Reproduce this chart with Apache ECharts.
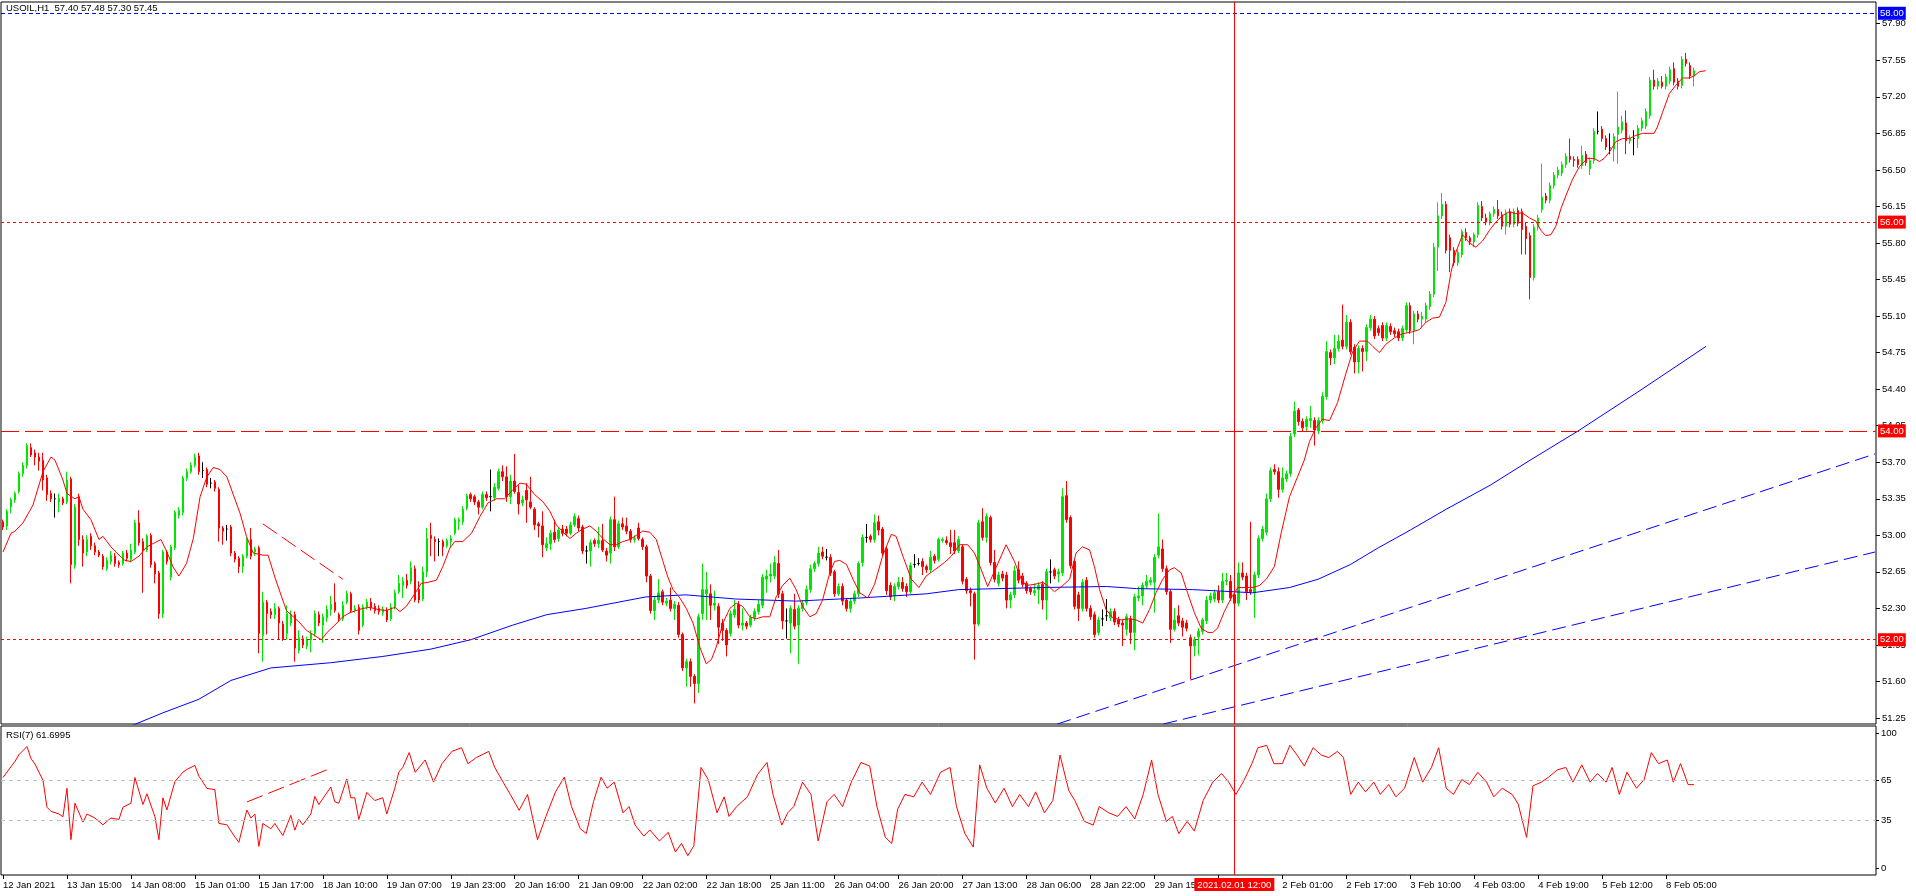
<!DOCTYPE html>
<html><head><meta charset="utf-8">
<script src="https://cdn.jsdelivr.net/npm/echarts@6/dist/echarts.min.js"></script>
<style>html,body{margin:0;padding:0;background:#fff;}#c{width:1916px;height:896px;}</style>
</head><body><div id="c"></div>
<script>
// ---------- DATA ----------
// candles: [open, close, low, high]
const candlesA = [
[53.13,53.08,53.05,53.15],[53.09,53.23,53.05,53.25],[53.27,53.34,53.21,53.36],[53.34,53.40,53.31,53.42],
[53.42,53.59,53.40,53.61],[53.59,53.67,53.56,53.70],[53.67,53.86,53.64,53.88],[53.84,53.77,53.75,53.88],
[53.79,53.75,53.67,53.82],[53.75,53.71,53.62,53.79],[53.72,53.53,53.43,53.79],[53.55,53.39,53.33,53.58],
[53.40,53.35,53.32,53.43],[53.35,53.35,53.17,53.40],[53.32,53.35,53.22,53.40],[53.35,53.31,53.29,53.37],
[53.32,53.53,53.30,53.61],[53.54,52.72,52.54,53.56],[52.71,53.27,52.68,53.30],[53.37,52.96,52.90,53.40],
[52.96,52.83,52.70,53.00],[52.84,52.96,52.80,53.00],[52.99,52.90,52.86,53.02],[52.90,52.84,52.81,52.93],
[52.84,52.81,52.79,52.86],[52.80,52.70,52.67,52.82],[52.68,52.76,52.66,52.79],[52.75,52.81,52.72,52.85],
[52.80,52.73,52.70,52.83],[52.74,52.72,52.69,52.76],[52.73,52.83,52.71,52.85],[52.83,52.78,52.75,52.86],
[52.77,52.86,52.74,52.92],[52.84,53.12,52.82,53.15],[53.12,52.93,52.90,53.24],[52.94,52.86,52.45,52.97],
[52.86,52.99,52.84,53.01],[53.00,52.72,52.69,53.02],[52.73,52.63,52.54,52.75],[52.64,52.25,52.20,52.66],
[52.25,52.84,52.21,52.86],[52.84,52.75,52.72,52.86],[52.60,52.89,52.57,52.91],[52.88,53.22,52.86,53.24],
[53.19,53.24,53.16,53.27],[53.22,53.55,53.19,53.57],[53.55,53.61,53.52,53.64],[53.61,53.67,53.59,53.70],
[53.67,53.75,53.65,53.78],[53.76,53.61,53.58,53.79],[53.62,53.62,53.55,53.70],[53.63,53.49,53.46,53.65],
[53.50,53.50,53.45,53.55],[53.51,53.45,53.42,53.53],[53.44,53.07,52.94,53.46],[53.07,53.04,52.91,53.09],
[53.06,53.06,52.95,53.10],[53.08,52.83,52.80,53.10],[52.83,52.77,52.74,52.85],[52.78,52.70,52.64,52.80],
[52.70,52.80,52.64,52.82],[52.80,52.96,52.78,52.98],[52.96,52.80,52.77,53.07],[52.84,52.87,52.80,52.89],
[52.88,52.06,51.87,52.90],[52.04,52.36,51.79,52.46],[52.36,52.25,52.05,52.38],[52.27,52.24,52.20,52.30],
[52.24,52.30,52.20,52.35],[52.30,52.16,52.00,52.32],[52.15,52.01,51.99,52.18],[52.06,52.25,52.00,52.33],
[52.16,52.24,52.13,52.28],[52.24,51.92,51.79,52.27],[51.90,52.02,51.87,52.09],[52.01,51.95,51.92,52.04],
[51.94,52.00,51.91,52.03],[52.00,52.06,51.88,52.09],[52.06,52.25,52.03,52.28],[52.24,52.16,52.13,52.27],
[52.14,52.22,51.97,52.25],[52.21,52.29,52.17,52.33],[52.29,52.34,52.23,52.42],[52.36,52.28,52.26,52.54],
[52.24,52.20,52.17,52.26],[52.20,52.33,52.18,52.37],[52.36,52.44,52.34,52.47],[52.44,52.28,52.26,52.46],
[52.28,52.30,52.26,52.33],[52.31,52.09,52.05,52.34],[52.14,52.31,52.12,52.34],[52.31,52.36,52.29,52.39],
[52.36,52.31,52.28,52.40],[52.32,52.28,52.25,52.35],[52.30,52.27,52.24,52.33],[52.26,52.29,52.23,52.32],
[52.28,52.19,52.17,52.31],[52.20,52.31,52.18,52.35],[52.31,52.45,52.29,52.48],[52.46,52.54,52.44,52.62],
[52.52,52.56,52.40,52.60],[52.57,52.52,52.49,52.63],[52.56,52.69,52.53,52.75],[52.68,52.38,52.36,52.71],
[52.48,52.38,52.35,52.56],[52.39,52.65,52.37,52.70],[52.65,52.97,52.60,53.07]
];
const candlesB = [
[53.00,52.97,52.80,53.12],[52.96,52.94,52.75,52.99],[52.94,52.94,52.80,52.97],[52.94,52.89,52.80,52.96],
[52.90,52.95,52.88,52.97],[52.94,52.97,52.88,53.00],[53.02,53.15,53.00,53.17],[53.13,53.15,53.05,53.17],
[53.13,53.25,53.10,53.28],[53.26,53.38,53.24,53.40],[53.39,53.35,53.32,53.41],[53.37,53.32,53.29,53.39],
[53.32,53.27,53.20,53.34],[53.27,53.39,53.25,53.42],[53.39,53.36,53.33,53.42],[53.37,53.37,53.23,53.63],
[53.36,53.46,53.33,53.50],[53.45,53.61,53.43,53.64],[53.61,53.56,53.52,53.67],[53.56,53.37,53.32,53.66],
[53.37,53.52,53.30,53.58],[53.52,53.42,53.40,53.78],[53.41,53.30,53.20,53.48],[53.31,53.34,53.28,53.38],
[53.43,53.34,53.12,53.50],[53.32,53.27,53.25,53.56],[53.25,53.10,53.05,53.27],[53.11,53.09,52.98,53.13],
[53.09,52.91,52.79,53.23],[52.88,52.92,52.85,52.98],[52.92,53.02,52.86,53.05],[53.03,52.96,52.93,53.15],
[52.97,53.05,52.94,53.08],[53.06,53.02,52.99,53.10],[53.06,53.02,52.99,53.09],[53.02,53.10,53.00,53.13],
[53.10,53.18,53.08,53.21],[53.16,53.07,53.04,53.19],[53.08,52.85,52.82,53.10],[52.85,52.85,52.73,52.90],
[52.85,52.93,52.70,52.96],[52.95,52.92,52.89,52.97],[52.92,52.95,52.88,53.08],[52.95,52.86,52.84,53.11],
[52.85,52.81,52.75,52.88],[52.83,53.15,52.73,53.18],[53.15,52.89,52.85,53.37],[52.89,53.11,52.87,53.14],
[53.11,53.08,53.05,53.17],[53.09,53.04,53.01,53.17],[53.04,52.96,52.93,53.06],[52.96,52.97,52.93,53.00],
[53.07,52.97,52.95,53.12],[52.96,52.89,52.86,52.98],[52.89,52.61,52.55,52.91],[52.61,52.28,52.25,52.63],
[52.28,52.38,52.19,52.41],[52.38,52.45,52.35,52.58],[52.46,52.36,52.33,52.48],[52.35,52.37,52.32,52.40],
[52.38,52.30,52.27,52.50],[52.30,52.34,52.19,52.37],[52.33,52.05,52.02,52.36],[52.05,51.73,51.70,52.07],
[51.73,51.79,51.55,51.82],[51.79,51.65,51.55,51.82],[51.65,51.58,51.39,51.67],[51.58,52.22,51.49,52.25],
[52.25,52.48,52.19,52.73],[52.44,52.48,52.19,52.65],[52.44,52.33,52.19,52.53],[52.33,52.35,52.28,52.47],
[52.32,52.12,51.96,52.35],[52.16,52.09,51.99,52.20],[52.09,51.95,51.84,52.11],[52.06,52.25,52.03,52.28],
[52.24,52.29,52.21,52.38],[52.34,52.14,52.11,52.37],[52.14,52.16,52.09,52.30],[52.16,52.13,52.10,52.18],
[52.14,52.21,52.12,52.24],[52.21,52.27,52.18,52.30],[52.27,52.34,52.24,52.38],[52.33,52.60,52.30,52.63],
[52.58,52.61,52.45,52.67],[52.61,52.63,52.55,52.73],[52.61,52.74,52.58,52.80],[52.73,52.44,52.40,52.86],
[52.44,52.18,52.10,52.47],[52.18,52.18,52.01,52.30],[52.16,52.30,51.87,52.33],[52.29,52.13,52.10,52.44],
[52.14,52.30,51.77,52.33],[52.30,52.35,52.27,52.38],[52.36,52.48,52.33,52.52],[52.48,52.68,52.45,52.72],
[52.68,52.73,52.65,52.75],[52.73,52.83,52.70,52.89],[52.84,52.80,52.77,52.89],[52.79,52.79,52.76,52.87],
[52.79,52.64,52.61,52.82],[52.65,52.44,52.41,52.67],[52.44,52.51,52.42,52.54],[52.51,52.37,52.33,52.54],
[52.38,52.30,52.27,52.40],[52.30,52.37,52.26,52.40],[52.37,52.44,52.34,52.47],[52.44,52.73,52.41,52.75]
];
const candlesC = [
[52.74,52.98,52.70,53.01],[52.98,52.98,52.93,53.11],[52.99,52.96,52.93,53.01],[52.96,53.12,52.93,53.20],
[53.13,53.05,53.00,53.19],[53.06,52.83,52.80,53.08],[52.87,52.47,52.43,52.89],[52.52,52.41,52.38,52.55],
[52.42,52.51,52.37,52.54],[52.51,52.55,52.48,52.60],[52.55,52.49,52.46,52.60],[52.51,52.46,52.41,52.54],
[52.46,52.71,52.44,52.74],[52.72,52.72,52.69,52.82],[52.73,52.73,52.71,52.78],[52.75,52.70,52.62,52.78],
[52.70,52.67,52.64,52.72],[52.67,52.79,52.64,52.85],[52.80,52.76,52.73,52.82],[52.77,52.96,52.75,52.98],
[52.95,52.96,52.93,52.98],[52.95,52.93,52.91,52.99],[52.93,52.89,52.82,53.05],[52.93,52.85,52.82,53.05],
[52.85,52.96,52.83,52.99],[52.89,52.56,52.53,52.91],[52.58,52.47,52.44,52.60],[52.47,52.45,52.32,52.50],
[52.44,52.15,51.81,52.46],[52.15,53.12,52.13,53.15],[53.13,52.98,52.95,53.26],[52.98,53.18,52.93,53.21],
[53.17,52.74,52.71,53.19],[52.74,52.58,52.55,52.86],[52.54,52.62,52.51,52.65],[52.63,52.59,52.56,52.66],
[52.62,52.38,52.30,52.65],[52.38,52.43,52.30,52.46],[52.43,52.66,52.40,52.71],[52.67,52.57,52.54,52.75],
[52.61,52.53,52.50,52.64],[52.54,52.47,52.44,52.56],[52.49,52.46,52.43,52.51],[52.45,52.47,52.42,52.54],
[52.48,52.52,52.34,52.55],[52.53,52.38,52.29,52.56],[52.38,52.65,52.19,52.68],[52.65,52.65,52.54,52.77],
[52.67,52.61,52.58,52.69],[52.63,52.65,52.55,52.68],[52.64,53.37,52.61,53.45],[53.38,53.15,53.12,53.52],
[53.17,52.71,52.68,53.19],[52.75,52.32,52.29,52.77],[52.43,52.30,52.18,52.46],[52.30,52.55,52.27,52.58],
[52.57,52.30,52.27,52.60],[52.30,52.22,52.19,52.33],[52.24,52.05,52.02,52.27],[52.07,52.19,52.04,52.22],
[52.20,52.20,52.13,52.29],[52.23,52.23,52.18,52.39],[52.21,52.27,52.18,52.30],[52.27,52.17,52.14,52.30],
[52.19,52.15,52.12,52.22],[52.16,52.14,51.94,52.19],[52.10,52.22,52.04,52.25],[52.20,52.07,51.96,52.23],
[52.07,52.41,51.90,52.44],[52.40,52.42,52.37,52.51],[52.42,52.52,52.33,52.55],[52.52,52.56,52.49,52.62],
[52.55,52.57,52.52,52.60],[52.55,52.79,52.26,52.82],[52.81,52.89,52.78,53.21],[52.87,52.68,52.65,52.96],
[52.68,52.46,52.43,52.71],[52.46,52.10,51.97,52.48],[52.10,52.19,52.08,52.30],[52.23,52.16,52.13,52.33],
[52.18,52.12,52.03,52.21],[52.16,52.11,52.08,52.19],[52.02,51.94,51.62,52.05],[51.94,52.00,51.84,52.03],
[52.03,52.08,51.85,52.11],[52.08,52.19,52.05,52.21],[52.18,52.38,52.15,52.42],[52.38,52.42,52.35,52.45],
[52.39,52.45,52.36,52.48],[52.46,52.38,52.35,52.52],[52.38,52.56,52.35,52.64],[52.56,52.57,52.52,52.64],
[52.56,52.40,52.37,52.62],[52.43,52.35,52.32,52.77],[52.35,52.64,52.32,52.74],[52.64,52.60,52.57,52.74],
[52.61,52.46,52.38,52.64],[52.48,52.46,52.43,53.13],[52.45,52.62,52.21,52.65],[52.62,52.97,52.59,53.00],
[52.97,53.06,52.94,53.09],[53.03,53.35,53.00,53.40],[53.35,53.62,53.32,53.65],[53.63,53.61,53.58,53.68],
[53.61,53.44,53.36,53.65],[53.44,53.55,53.41,53.65],[53.54,53.59,53.51,53.62]
];
const candlesD = [
[53.59,53.95,53.56,53.98],[53.97,54.19,53.94,54.28],[54.20,54.09,54.05,54.22],[54.09,54.03,54.00,54.12],
[54.04,54.11,54.00,54.14],[54.10,54.12,54.03,54.24],[54.10,54.01,53.86,54.13],[54.00,54.10,53.97,54.13],
[54.10,54.33,54.07,54.37],[54.33,54.76,54.30,54.86],[54.75,54.70,54.63,54.78],[54.70,54.79,54.64,54.92],
[54.79,54.86,54.76,54.92],[54.87,54.81,54.78,55.21],[54.81,55.04,54.78,55.11],[55.04,54.76,54.73,55.07],
[54.80,54.66,54.55,54.83],[54.66,54.79,54.55,54.82],[54.79,54.76,54.57,54.82],[54.76,54.99,54.67,55.02],
[54.99,55.07,54.96,55.11],[55.07,54.91,54.88,55.10],[54.98,54.94,54.91,55.01],[55.01,54.89,54.86,55.04],
[54.89,55.01,54.86,55.04],[55.00,54.95,54.92,55.03],[54.96,54.93,54.90,54.99],[54.95,54.89,54.86,54.98],
[54.89,54.98,54.86,55.01],[54.97,55.20,54.94,55.23],[55.20,54.96,54.93,55.23],[54.96,55.12,54.83,55.15],
[55.12,55.07,55.04,55.15],[55.07,55.10,54.99,55.14],[55.07,55.20,55.04,55.23],[55.19,55.31,55.16,55.34],
[55.31,55.76,55.28,55.80],[55.76,56.06,55.53,56.19],[56.06,56.17,56.03,56.28],[56.17,55.73,55.70,56.20],
[55.85,55.73,55.52,55.88],[55.73,55.61,55.58,55.76],[55.61,55.71,55.58,55.74],[55.69,55.91,55.66,55.93],
[55.90,55.85,55.82,55.94],[55.85,55.81,55.78,55.87],[55.81,55.88,55.76,55.90],[55.88,56.16,55.85,56.19],
[56.15,56.04,56.01,56.20],[56.04,56.00,55.97,56.08],[56.00,56.08,55.97,56.10],[56.08,56.12,56.05,56.15],
[56.12,56.06,56.03,56.21],[56.07,55.96,55.93,56.10],[55.96,56.09,55.88,56.12],[56.10,55.98,55.95,56.13],
[55.98,56.10,55.95,56.13],[56.11,55.99,55.96,56.14],[56.10,55.93,55.69,56.13],[55.96,55.84,55.69,56.00],
[55.87,55.47,55.26,55.90],[55.47,55.95,55.44,55.98],[55.95,56.04,55.92,56.07],[56.12,56.24,56.09,56.56],
[56.25,56.21,56.18,56.28],[56.21,56.35,56.18,56.38],[56.35,56.45,56.32,56.48],[56.45,56.50,56.42,56.53],
[56.47,56.55,56.44,56.58],[56.55,56.63,56.52,56.66],[56.63,56.60,56.57,56.80],[56.60,56.59,56.53,56.63],
[56.60,56.55,56.52,56.63],[56.54,56.64,56.51,56.73],[56.65,56.57,56.54,56.68],[56.51,56.59,56.45,56.62],
[56.59,56.87,56.56,56.90],[56.87,56.87,56.84,57.06],[56.89,56.80,56.77,56.92],[56.80,56.72,56.69,56.83],
[56.71,56.71,56.65,56.85],[56.70,56.82,56.58,56.85],[56.84,56.91,56.56,57.25],[56.88,56.96,56.85,57.02],
[56.95,56.78,56.65,57.07],[56.78,56.80,56.75,56.83],[56.80,56.80,56.64,56.88],[56.80,56.90,56.71,56.93],
[56.90,56.97,56.87,57.00],[56.92,57.06,56.89,57.09],[57.02,57.36,56.99,57.39],[57.36,57.30,57.27,57.46],
[57.30,57.35,57.27,57.38],[57.34,57.30,57.28,57.40],[57.30,57.39,57.27,57.42],[57.35,57.46,57.32,57.49],
[57.47,57.34,57.31,57.53],[57.35,57.30,57.27,57.38],[57.31,57.56,57.28,57.59],[57.56,57.52,57.49,57.62],
[57.50,57.40,57.37,57.53],[57.40,57.45,57.30,57.48]
];
// fast moving average (red), points [bar, price]
const maFast = [[0,52.84],[2,53.02],[3,53.04],[5,53.12],[7.5,53.29],[10,53.61],[12,53.75],[13,53.72],[15,53.53],[16,53.40],[18,53.35],[19,53.37],[20,53.25],[22,53.15],[24,52.96],[25,52.99],[27,52.89],[28.5,52.83],[30.5,52.76],[32,52.75],[34,52.80],[36,52.89],[38,52.93],[39.5,52.96],[41,52.84],[42.5,52.70],[44,52.61],[45.9,52.73],[47.6,52.97],[49.3,53.37],[51,53.56],[52.6,53.65],[54.3,53.63],[56,53.56],[57.6,53.39],[59.3,53.21],[60.9,52.99],[62.6,52.83],[65,52.81],[66.3,52.81],[68,52.60],[69.7,52.41],[70.9,52.28],[72.6,52.22],[74.3,52.16],[75.9,52.09],[78,52.04],[79.6,52.00],[81.3,52.08],[83,52.14],[85,52.22],[86.8,52.26],[88.4,52.28],[90,52.30],[91.8,52.31],[93.8,52.29],[95.9,52.28],[98,52.31],[99.3,52.27],[100.9,52.32],[103,52.44],[104.6,52.54],[106.3,52.55],
[108.4,52.57],[110,52.70],[111.8,52.88],[113,52.94],[115,52.94],[117.2,53.02],[119.3,53.18],[121.3,53.31],[123.4,53.35],[125.5,53.35],[127.6,53.44],[129.3,53.50],[130.9,53.49],[133,53.39],[135.1,53.32],[136.8,53.23],[138.4,53.10],[140.1,53.03],[141.8,52.97],[143.4,53.02],[145,53.06],[146.8,53.09],[148.4,53.04],[150,52.97],[151.8,52.91],[153.4,52.91],[155,52.94],[156.8,52.96],[158.4,53.00],[160,53.04],[161.8,53.03],[163.4,52.96],[165,52.76],[166.3,52.60],[167.6,52.48],[169.3,52.40],[170.9,52.30],[172.6,52.16],[174.3,51.93],[175.9,51.77],[177.2,51.81],[178.4,51.93],[180.1,52.16],[181.8,52.30],[183.4,52.35],[185,52.32],[186.8,52.22],[188.4,52.20],[190,52.22],[191.8,52.22],[193.4,52.41],[195,52.52],[196.8,52.59],[198.4,52.48],[200,52.32],[201.8,52.22],[203.4,52.25],[205,52.38],[206.8,52.64],[208,52.75],[209.3,52.76],[211,52.72],[212.6,52.58],[214.3,52.45],
[216.3,52.40],[218,52.53],[220,52.80],[222.2,53.01],[223.4,52.99],[225.1,52.80],[227.2,52.58],[229.1,52.50],[230.9,52.61],[233.4,52.68],[235.5,52.74],[237.2,52.80],[239.3,52.91],[241.3,52.91],[243,52.83],[244.7,52.67],[246.3,52.51],[248.4,52.69],[250.9,52.91],[253,52.75],[254.7,52.58],[255.9,52.52],[258,52.53],[260.1,52.55],[261.6,52.51],[263,52.46],[265.1,52.52],[266.8,52.58],[268.4,52.83],[270,52.89],[271.8,52.86],[273,52.70],[274.3,52.48],[275.9,52.29],[277.6,52.21],[279.7,52.19],[281.8,52.20],[283.4,52.19],[285.1,52.16],[286.8,52.29],[288.4,52.45],[290.1,52.58],[291.8,52.67],[293,52.69],[294.7,52.64],[296.3,52.45],[298,52.26],[299.7,52.11],[301.4,52.07],[302.6,52.07],[303.8,52.11],[305.5,52.27],[307.2,52.40],[308.9,52.50],[311,52.50],[312.6,52.50],[314.3,52.52],[316,52.58],[318,52.70],[319.7,53.02],[321.8,53.37],
[325.5,53.72],[326.8,53.90],[328.4,54.03],[330,54.11],[331.8,54.10],[333.8,54.27],[335.9,54.55],[337.6,54.76],[339.3,54.86],[341.3,54.86],[342.6,54.81],[344.3,54.75],[345.9,54.83],[348,54.89],[350,54.93],[352.6,54.95],[354.3,54.97],[355.9,55.04],[357.6,55.08],[359.3,55.09],[360.9,55.23],[362.2,55.52],[363.4,55.71],[365.1,55.88],[366.8,55.80],[368.4,55.76],[370.1,55.82],[371.8,55.92],[373.4,56.00],[375,56.06],[376.8,56.10],[378.4,56.08],[380,56.09],[381.8,56.04],[383.4,56.01],[384.7,55.92],[385.9,55.87],[387.2,55.88],[388.4,55.96],[389.7,56.13],[390.9,56.25],[392.6,56.41],[394.3,56.53],[396.3,56.61],[398,56.61],[399.3,56.58],[400.5,56.61],[401.8,56.67],[403.4,56.77],[405.1,56.80],[406.8,56.80],[408.4,56.83],[410.1,56.85],[411.8,56.85],[413,56.85],[413.8,56.91],[415.1,57.05],[416.8,57.23],[418.4,57.31],[420.1,57.38],[421.8,57.38],[423,57.40],[424.3,57.44],[425.9,57.45]];
// slow moving average (blue)
const maSlow = [[20,51.02],[33,51.19],[40,51.30],[49,51.43],[57,51.61],[67,51.73],[82,51.78],[95,51.84],[107,51.91],[117,52.00],[127.5,52.14],[136,52.24],[145.8,52.30],[152.6,52.35],[160.8,52.41],[170.8,52.43],[183.3,52.39],[198.4,52.37],[214.4,52.40],[231,52.44],[239,52.48],[260,52.50],[276,52.51],[283.5,52.49],[297.6,52.48],[312.6,52.45],[321.8,52.50],[329,52.58],[337,52.72],[344,52.88],[352,53.05],[361,53.25],[372,53.48],[382,53.72],[394,54.00],[410,54.40],[426,54.81]];
// RSI(7)
const rsi = [[0,67],[2,75],[3,79],[4,84],[6,90],[7,81],[8,77],[10,65],[11,45],[12,42],[14,40],[15,38],[16,59],[17,21],[18,48],[20,34],[21,40],[23,37],[25,32],[27,37],[29,36],[30,45],[32,48],[33,67],[35,47],[36,55],[38,38],[39,21],[40,52],[41,43],[43,64],[45,71],[46,73],[48,76],[49,68],[51,59],[53,58],[54,33],[56,32],[58,23],[59,19],[61,43],[62,37],[63,40],[64,16],[65,33],[67,29],[68,33],[70,24],[72,39],[73,28],[74,36],[75,32],[77,40],[78,53],[79,47],[82,60],[83,49],[84,48],[86,66],[87,52],[88,52],[89,36],[91,56],[93,50],[95,52],[96,40],[98,59],[99,71],
[100,74.5],[101.6,85.5],[103.1,70.9],[105.6,80],[107.7,63.6],[109.8,77.3],[112.3,86.4],[114.7,89.1],[116.3,77.3],[118.4,81.8],[121.5,86.4],[123,74.5],[125.1,63.6],[126.9,54.5],[129.1,42.7],[131.2,54.5],[133.7,20.9],[135.8,38.2],[138.2,56.4],[140.4,67.3],[142.2,45.5],[144.4,29.1],[145.9,25.5],[147.7,49.1],[149.6,67.3],[151.1,59.1],[152.9,63.6],[155.1,40.9],[156.6,45.5],[158.1,31.8],[160.3,23.6],[161.8,28.2],[164.2,20],[166.4,26.4],[168.2,11.8],[169.7,18.2],[171.3,9.1],[172.8,16.4],[174.6,74.5],[176.4,65.5],[178.6,40.9],[180.4,52.7],[181.6,38.2],[183.5,45.5],[186.2,52.7],[188.7,69.1],[191.1,78.2],[192.6,54.5],[194.8,31.8],[196.3,40.9],[197.8,45.5],[200,63.6],[202.1,54.5],[203.9,20],[206.1,49.1],[207.9,54.5],[210,45.5],[212.2,63.6],[214.6,78.2],[216.8,75.5],[218.6,45.5],[220.7,22.7],[222.3,18.2],[223.8,43.6],[225.6,54.5],[227.8,52.7],[229.9,63.6],[232,54.5],[234.5,70.9],[236.9,74.5],[238.5,45.5],[240.6,25.5],[242.7,15.5],[244.3,76.4],[246.1,59.1],[248.2,48.2],[250.4,59.1],[252.5,45.5],[254.3,54.5],[256.5,45.5],[258.3,56.4],[260.5,40.9],[262.6,50],[264.4,83.6],[266.6,57.3],[268.1,50],[270.5,34.5],[272.7,31.8],[274.2,45.5],[276.6,40.9],[278.8,38.2],[280.9,45.5],[283.1,36.4],[285.2,54.5],[287.3,80],[288.9,54.5],[291,34.5],[292.5,38.2],[294.1,25.5],[296.2,34.5],[298,27.3],[300.2,50],[302.6,63.6],[304.8,70],[306.6,63.6],[308.4,54.5],[310.2,63.6],[312.4,77.3],[313.9,89.1],[316.1,90.9],[317.9,77.3],[320,77.3],[321.9,90.9],[323.7,83.6],[325.5,75.5],[327.7,89.1],[329.8,83.6],[331.6,81.8],[333.8,86.4],[335.3,81.8],[337.1,54.5],[339,63.6],[340.8,56.4],[342.9,63.6],[344.5,54.5],[346.6,61.8],[348.4,52.7],[350.6,59.1],[353,81.8],[355.1,63.6],[357.3,74.5],[359.1,89.1],[361,59.1],[362.8,54.5],[364.9,65.5],[366.8,61.8],[368.9,70.9],[371.1,63.6],[372.9,52.7],[375,59.1],[377.5,54.5],[379,47.3],[381.1,22.7],[382.7,60.9],[384.8,63.6],[386.6,67.3],[388.8,72.7],[390.9,74.5],[392.7,63.6],[394.9,76.4],[397,63.6],[398.8,70],[401,63.6],[402.5,74.5],[404.3,54.5],[406.2,70.9],[408.6,59.1],[410.5,65.5],[412.3,85.5],[414.1,77.3],[416.3,80],[417.8,63.6],[419.6,77.3],[421.5,61.8],[423,61.7]];
// drawn objects
const trendLines = [[[263.75,51.193],[468.25,53.78]],[[290.25,51.193],[468.25,52.84]]];
const redDashMain = [[65,53.11],[85,52.58]];
const redDashRsi = [[61,48.9],[81.5,73.3]];
const levelValues = [58.00, 56.00, 54.00, 52.00];
const lastPrice = 57.45;
const cursorBar = 308;
const cursorLabel = '2021.02.01 12:00';
const rsiLevels = [65, 35];
// axis ticks
const priceTicks = [51.25,51.60,51.95,52.30,52.65,53.00,53.35,53.70,54.05,54.40,54.75,55.10,55.45,55.80,56.15,56.50,56.85,57.20,57.55,57.90];
const rsiTicks = [0, 35, 65, 100];
const timeLabels = ['12 Jan 2021','13 Jan 15:00','14 Jan 08:00','15 Jan 01:00','15 Jan 17:00','18 Jan 10:00','19 Jan 07:00','19 Jan 23:00','20 Jan 16:00','21 Jan 09:00','22 Jan 02:00','22 Jan 18:00','25 Jan 11:00','26 Jan 04:00','26 Jan 20:00','27 Jan 13:00','28 Jan 06:00','28 Jan 22:00','29 Jan 15:00','','2 Feb 01:00','2 Feb 17:00','3 Feb 10:00','4 Feb 03:00','4 Feb 19:00','5 Feb 12:00','8 Feb 05:00'];
const timeStep = 16;
const titleMain = 'USOIL,H1  57.40 57.48 57.30 57.45';
const titleRsi = 'RSI(7) 61.6995';

// ---------- CHART ----------
const SLOTS = 469;
const FONT = 'Liberation Sans';
const FS = 9.5;
const candles = candlesA.concat(candlesB, candlesC, candlesD);
const barIndex = Array.from({length: SLOTS}, (_, i) => i);
const timeTickPos = timeLabels.map((_, k) => k * timeStep);
const GREEN = '#00e600', RED = '#ff0000', BLUE = '#0000ff';
const levelStyle = [
  {color: BLUE, type: [4, 3], bg: BLUE},
  {color: RED, type: [3, 3], bg: RED},
  {color: RED, type: [18, 6], bg: RED},
  {color: RED, type: [3, 3], bg: RED}
];
const tagLabel = (bg, txt) => ({show: true, position: 'end', distance: 2, formatter: txt,
  backgroundColor: bg, color: '#fff', padding: [2, 2, 1, 2], fontFamily: FONT, fontSize: FS});

const chart = echarts.init(document.getElementById('c'));
const vx = (grid) => ({type: 'value', gridIndex: grid, min: -0.5, max: SLOTS - 0.5, show: false, axisLine: {onZero: false}});

const option = {
  animation: false,
  backgroundColor: '#fff',
  title: [
    {text: titleMain, left: 6, top: 3, padding: 0, textStyle: {fontFamily: FONT, fontSize: FS, fontWeight: 'normal', color: '#000'}},
    {text: titleRsi, left: 6, top: 730, padding: 0, textStyle: {fontFamily: FONT, fontSize: FS, fontWeight: 'normal', color: '#000'}}
  ],
  grid: [
    {left: 1, top: 2, width: 1875, height: 722, show: true, borderColor: '#000', borderWidth: 1, backgroundColor: '#fff'},
    {left: 1, top: 726, width: 1875, height: 149, show: true, borderColor: '#000', borderWidth: 1, backgroundColor: '#fff'}
  ],
  xAxis: [
    {type: 'category', gridIndex: 0, data: barIndex, boundaryGap: true, show: false},
    vx(0),
    {type: 'value', gridIndex: 1, min: -0.5, max: SLOTS - 0.5, position: 'bottom',
      axisLine: {show: false, onZero: false}, splitLine: {show: false},
      axisTick: {show: true, customValues: timeTickPos, length: 4, lineStyle: {color: '#000'}},
      axisLabel: {show: true, customValues: timeTickPos, align: 'left', margin: 5,
        formatter: (v) => timeLabels[Math.round(v / timeStep)] || '',
        fontFamily: FONT, fontSize: FS, color: '#000'}}
  ],
  yAxis: [
    {type: 'value', gridIndex: 0, min: 51.193, max: 58.108, position: 'right',
      axisLine: {show: false, onZero: false}, splitLine: {show: false},
      axisTick: {show: true, customValues: priceTicks, length: 4, lineStyle: {color: '#000'}},
      axisLabel: {customValues: priceTicks, margin: 6, formatter: (v) => v.toFixed(2),
        fontFamily: FONT, fontSize: FS, color: '#000'}},
    {type: 'value', gridIndex: 1, min: -5.2, max: 105.2, position: 'right',
      axisLine: {show: false, onZero: false}, splitLine: {show: false},
      axisTick: {show: true, customValues: rsiTicks, length: 3, lineStyle: {color: '#000'}},
      axisLabel: {customValues: rsiTicks, margin: 5, formatter: (v) => String(v),
        fontFamily: FONT, fontSize: FS, color: '#000'}}
  ],
  series: [
    {type: 'candlestick', xAxisIndex: 0, yAxisIndex: 0, data: candles, barWidth: 2,
      itemStyle: {color: GREEN, color0: RED, borderColor: GREEN, borderColor0: RED, borderColorDoji: '#000', borderWidth: 1},
      markLine: {silent: true, symbol: 'none', animation: false,
        data: levelValues.map((v, k) => ({yAxis: v,
          lineStyle: {color: levelStyle[k].color, type: levelStyle[k].type, width: 1},
          label: tagLabel(levelStyle[k].bg, v.toFixed(2))})).concat([
          {yAxis: lastPrice, lineStyle: {opacity: 0}, label: tagLabel('#000', lastPrice.toFixed(2))}
        ])}},
    {type: 'line', xAxisIndex: 1, yAxisIndex: 0, data: maSlow, showSymbol: false, lineStyle: {color: BLUE, width: 1}},
    {type: 'line', xAxisIndex: 1, yAxisIndex: 0, data: maFast, showSymbol: false, lineStyle: {color: RED, width: 1},
      markLine: {silent: true, symbol: 'none', animation: false,
        data: [{xAxis: cursorBar, lineStyle: {color: RED, type: 'solid', width: 1}, label: {show: false}}]}},
    {type: 'line', xAxisIndex: 1, yAxisIndex: 0, data: trendLines[0], showSymbol: false, lineStyle: {color: BLUE, width: 1, type: [14, 6]}},
    {type: 'line', xAxisIndex: 1, yAxisIndex: 0, data: trendLines[1], showSymbol: false, lineStyle: {color: BLUE, width: 1, type: [14, 6]}},
    {type: 'line', xAxisIndex: 1, yAxisIndex: 0, data: redDashMain, showSymbol: false, lineStyle: {color: RED, width: 1, type: [17, 6]}},
    {type: 'line', xAxisIndex: 2, yAxisIndex: 1, data: rsi, showSymbol: false, lineStyle: {color: RED, width: 1},
      markLine: {silent: true, symbol: 'none', animation: false,
        data: rsiLevels.map(v => ({yAxis: v, lineStyle: {color: '#c0c0c0', type: [4, 4], width: 1}, label: {show: false}})).concat([
          {xAxis: cursorBar, lineStyle: {color: RED, type: 'solid', width: 1},
            label: {show: true, position: 'start', distance: 3, formatter: cursorLabel, backgroundColor: RED,
              color: '#fff', padding: [2, 3, 1, 3], fontFamily: FONT, fontSize: FS}}
        ])}},
    {type: 'line', xAxisIndex: 2, yAxisIndex: 1, data: redDashRsi, showSymbol: false, lineStyle: {color: RED, width: 1, type: [17, 6]}}
  ]
};
chart.setOption(option);
</script></body></html>
